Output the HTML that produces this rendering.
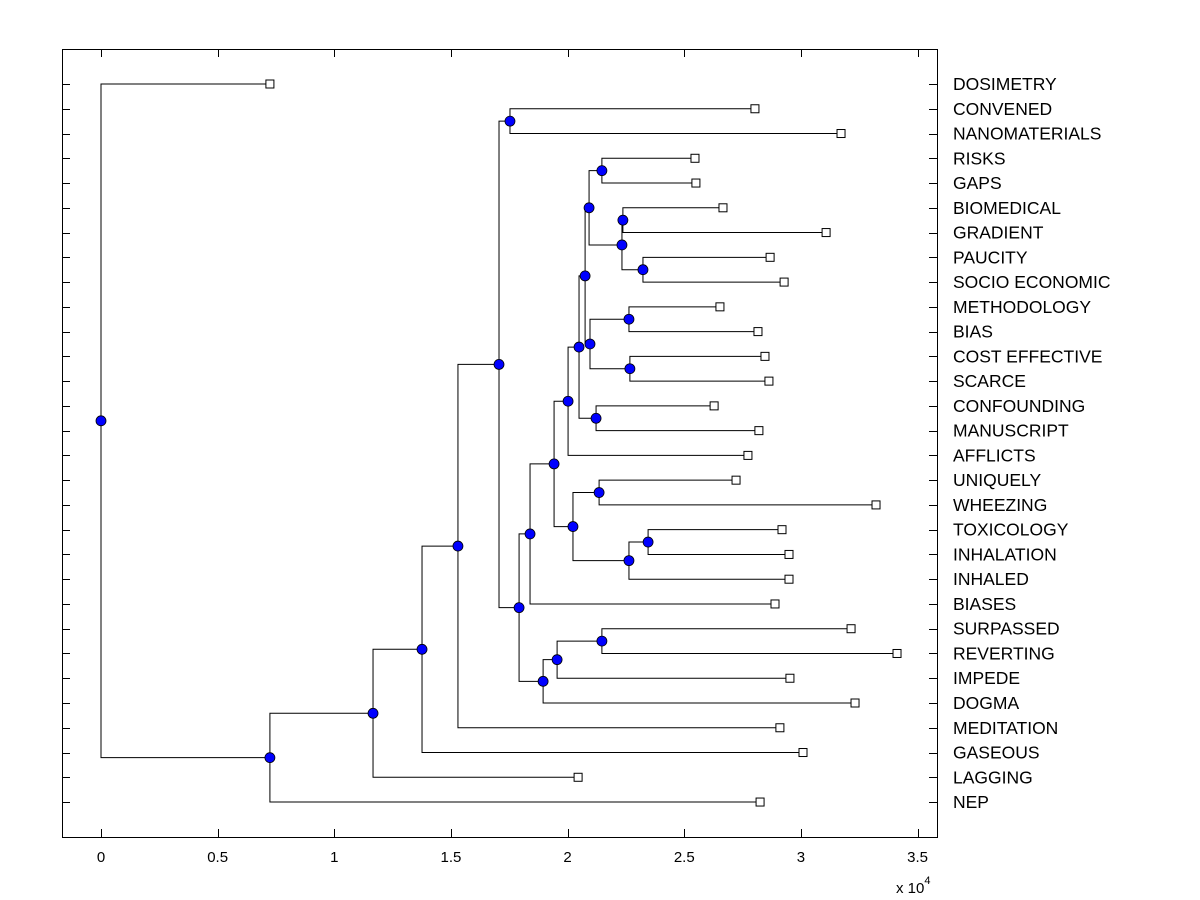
<!DOCTYPE html>
<html><head><meta charset="utf-8"><style>
body{margin:0;background:#fff;}
svg{display:block;font-family:"Liberation Sans",Arial,sans-serif;}
</style></head><body>
<svg id="chart" width="1200" height="900" viewBox="0 0 1200 900">
<rect x="0" y="0" width="1200" height="900" fill="#fff"/>
<g id="plot"></g>
<rect x="62.5" y="49.5" width="875" height="788" fill="none" stroke="#000" stroke-width="1"/>
<text x="896" y="893" font-size="15">x 10<tspan dy="-9" font-size="11">4</tspan></text>
</svg>
<script>
const leafLabels = ["DOSIMETRY","CONVENED","NANOMATERIALS","RISKS","GAPS","BIOMEDICAL","GRADIENT","PAUCITY","SOCIO ECONOMIC","METHODOLOGY","BIAS","COST EFFECTIVE","SCARCE","CONFOUNDING","MANUSCRIPT","AFFLICTS","UNIQUELY","WHEEZING","TOXICOLOGY","INHALATION","INHALED","BIASES","SURPASSED","REVERTING","IMPEDE","DOGMA","MEDITATION","GASEOUS","LAGGING","NEP"];
const leafValues = [0.724,2.803,3.172,2.546,2.550,2.666,3.108,2.868,2.928,2.653,2.816,2.846,2.863,2.628,2.820,2.773,2.722,3.322,2.919,2.949,2.949,2.889,3.215,3.412,2.953,3.232,2.910,3.009,2.045,2.825];
const mergeChildren = [
 ["L1","L2"],["L3","L4"],["L5","L6"],["L7","L8"],["N2","N3"],["N1","N4"],
 ["L9","L10"],["L11","L12"],["N6","N7"],["N5","N8"],["L13","L14"],["N9","N10"],
 ["N11","L15"],["L16","L17"],["L18","L19"],["N14","L20"],["N13","N15"],["N12","N16"],
 ["N17","L21"],["L22","L23"],["N19","L24"],["N20","L25"],["N18","N21"],["N0","N22"],
 ["N23","L26"],["N24","L27"],["N25","L28"],["N26","L29"],["L0","N27"]
];
const mergeHeights = [1.753,2.147,2.237,2.323,2.233,2.092,2.263,2.267,2.096,2.075,2.122,2.049,2.002,2.135,2.345,2.263,2.023,1.942,1.839,2.147,1.955,1.895,1.792,1.706,1.530,1.376,1.166,0.724,0.0];
const xTicks = [0,0.5,1,1.5,2,2.5,3,3.5];
const xTickLabels = ["0","0.5","1","1.5","2","2.5","3","3.5"];

const NS="http://www.w3.org/2000/svg";
const plot=document.getElementById('plot');
const svg=document.getElementById('chart');
const xs=v=>101+v*233.3;
const ys=i=>84+i*24.76;
function mk(tag,attrs,parent){const e=document.createElementNS(NS,tag);for(const k in attrs)e.setAttribute(k,attrs[k]);(parent||plot).appendChild(e);return e;}

xTicks.forEach((t,i)=>{
  const x=Math.round(xs(t))+0.5;
  let e=mk('line',{x1:x,x2:x,y1:837,y2:829,stroke:'#000'},svg);
  
  
  e=mk('line',{x1:x,x2:x,y1:49,y2:57,stroke:'#000'},svg);
  
  
  e=mk('text',{x:xs(t),y:862,'text-anchor':'middle','font-size':15},svg);
  e.textContent=xTickLabels[i];
  
  
});
leafLabels.forEach((lab,i)=>{
  const y=Math.round(ys(i))+0.5;
  let e=mk('line',{x1:62,x2:70,y1:y,y2:y,stroke:'#000'},svg);
  
  
  e=mk('line',{x1:929,x2:937,y1:y,y2:y,stroke:'#000'},svg);
  
  
  e=mk('text',{x:953,y:ys(i)+6,'font-size':17.5},svg);
  e.textContent=lab;
  
  
});

function pos(id){
  if(id[0]==='L'){const i=+id.slice(1);return {x:xs(leafValues[i]),y:ys(i)};}
  const n=+id.slice(1);const a=pos(mergeChildren[n][0]),b=pos(mergeChildren[n][1]);
  return {x:xs(mergeHeights[n]),y:(a.y+b.y)/2};
}
const lines=mk('g',{});


mergeChildren.forEach((ch,n)=>{
  const p=pos('N'+n),a=pos(ch[0]),b=pos(ch[1]);
  const d=`M${a.x},${a.y}H${p.x}V${b.y}H${b.x}`;
  const e=mk('path',{d:d,fill:'none',stroke:'#000','stroke-width':1},lines);
  
  
});
leafValues.forEach((v,i)=>{
  const e=mk('rect',{x:xs(v)-4,y:ys(i)-4,width:8,height:8,fill:'#fff',stroke:'#000'});
  
  
});
mergeHeights.forEach((h,n)=>{
  const p=pos('N'+n);
  const e=mk('circle',{cx:p.x,cy:p.y,r:5,fill:'#0000ff',stroke:'#000','stroke-width':0.8});
  
  
});
</script>
</body></html>
